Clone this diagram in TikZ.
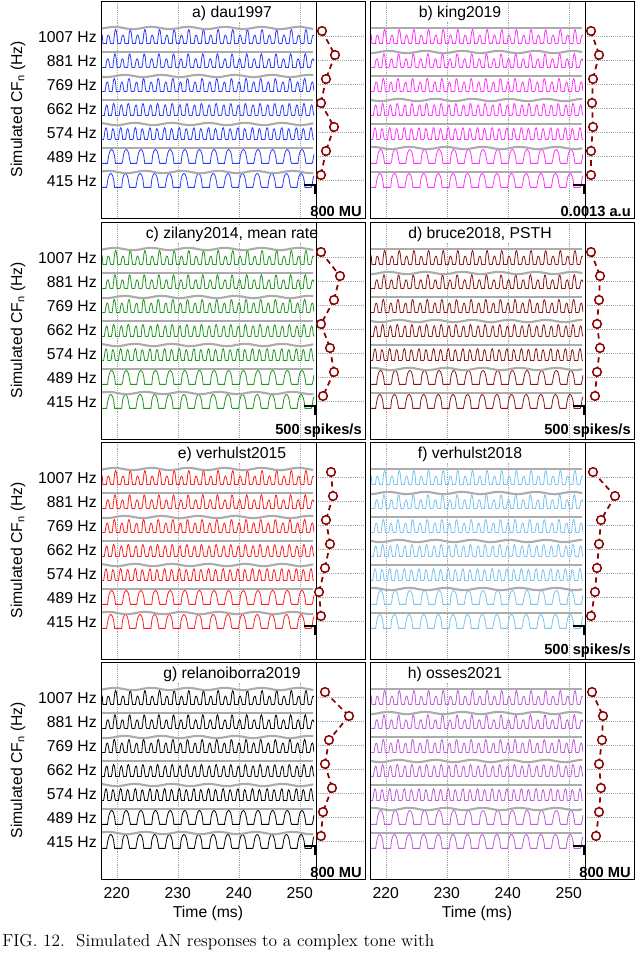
\documentclass[tikz,border=0pt]{standalone}
\usepackage{fontspec}
\setmainfont{Liberation Sans}
\newfontfamily\capfont{Latin Modern Roman}
\begin{document}
\begin{tikzpicture}[x=0.75pt,y=-0.75pt,
  lab/.style={font=\fontsize{11.8}{13}\selectfont,inner sep=0pt},
  ttl/.style={font=\fontsize{11.8}{13}\selectfont,fill=white,inner sep=1pt},
  scl/.style={font=\bfseries\fontsize{11}{12}\selectfont,inner sep=0pt,anchor=south east},
  grid/.style={gray!70,densely dotted,line width=0.4pt},
  gline/.style={gray!65,line width=1.6pt},
  dotc/.style={circle,draw=red!55!black,fill=white,line width=1.1pt,inner sep=0pt,minimum size=6.5pt},
  dline/.style={red!55!black,line width=1.3pt,dash pattern=on 4pt off 3pt}]
\useasboundingbox (0,0) rectangle (640,953);
\definecolor{ca}{RGB}{40,60,255}
\definecolor{cb}{RGB}{255,50,255}
\definecolor{cc}{RGB}{30,150,30}
\definecolor{cd}{RGB}{140,20,20}
\definecolor{ce}{RGB}{255,30,30}
\definecolor{cf}{RGB}{120,195,240}
\definecolor{cg}{RGB}{0,0,0}
\definecolor{ch}{RGB}{190,90,220}
\foreach \L/\T/\col/\ttl/\tx/\sc/\dl [count=\p] in {
  101/1/ca/{a) dau1997}/232/{800 MU}/{3,16,7,2,15,7,2},
  370/1/cb/{b) king2019}/460/{0.0013 a.u}/{3,11,5,4,5,3,3},
  101/222/cc/{c) zilany2014, mean rate}/232/{500 spikes/s}/{2,21,15,2,11,15,4},
  370/222/cd/{d) bruce2018, PSTH}/480/{500 spikes/s}/{3,12,11,9,12,9,7},
  101/442/ce/{e) verhulst2015}/232/{}/{12,14,7,11,6,0,2},
  370/442/cf/{f) verhulst2018}/470/{500 spikes/s}/{5,27,13,11,9,7,3},
  101/662/cg/{g) relanoiborra2019}/232/{800 MU}/{6,30,10,6,13,4,2},
  370/662/ch/{h) osses2021}/455/{800 MU}/{4,15,14,11,13,11,8}}
{
  \pgfmathsetmacro\D{\L+215}
  \pgfmathsetmacro\R{\L+264}
  \pgfmathsetmacro\B{\T+217}
  \foreach \t in {220,230,240,250}
    \draw[grid] ({\L+(\t-217.4)*6.1},\T) -- ({\L+(\t-217.4)*6.1},\B);
  \foreach \k in {0,...,6}
    \draw[grid] (\D,{\T+35.5+24*\k}) -- (\R,{\T+35.5+24*\k});
  \foreach \k in {0,...,6}{
    \pgfmathsetmacro\Y{\T+35.5+24*\k}
    \ifnum\k<5
      \draw[\col,line width=0.6pt] plot[domain=0.2:34.9,samples=300]
        ({\L+\x*6.1},{\Y+7-14*(0.8+0.2*cos(150*\x+40*\k))*pow(max(0.0001,cos(300*\x+30*\k)),0.6)});
    \else
      \draw[\col,line width=0.6pt] plot[domain=0.2:34.9,samples=240]
        ({\L+\x*6.1},{\Y+7-14*pow(max(0.0001,cos(150*\x+20*\k)),0.5)});
    \fi
    \draw[gline] plot[domain=0.1:34.8,samples=40]
      ({\L+\x*6.1},{\Y-8.5+1.2*sin(345*\x+50*\k)*mod(\k+\p,2)});
  }
  \node[ttl] (t\p) at (\tx,{\T+12}) {\ttl};
  \draw[line width=0.5pt] (\D,\T) -- (\D,\B);
  \draw[line width=0.5pt] (\L,\T) rectangle (\R,\B);
  \draw[line width=1.2pt] ({\D-12},{\T+184}) -- ({\D-1},{\T+184}) -- ({\D-1},{\T+193});
  \node[scl] (s\p) at ({\R-3},{\B-1}) {\sc};
  \foreach \o [count=\k from 0] in \dl
    \coordinate (q\k) at ({\D+3+\o},{\T+30+24*\k});
  \foreach \k in {0,...,5}{
    \pgfmathtruncatemacro\kk{\k+1}
    \draw[dline] (q\k) -- (q\kk);
  }
  \foreach \k in {0,...,6}
    \node[dotc] (c\p\k) at (q\k) {};
}
\foreach \T in {1,222,442,662}{
  \foreach \f [count=\k from 0] in {1007,881,769,662,574,489,415}
    \node[lab,anchor=east] (yl\T\k) at (97,{\T+36+24*\k}) {\f\ Hz};
  \node[lab,rotate=90] (yt\T) at (18,{\T+108}) {Simulated CF$_{\mathrm n}$ (Hz)};
}
\foreach \L in {101,370}{
  \foreach \t in {220,230,240,250}
    \node[lab] (xt\L\t) at ({\L+(\t-217.4)*6.1},893) {\t};
  \node[lab] (xl\L) at ({\L+107},913) {Time (ms)};
}
\node[anchor=west,inner sep=0pt,font=\capfont\fontsize{13}{14}\selectfont] (cap) at (2,942)
  {FIG.\ 12.\ \ Simulated AN responses to a complex tone with};
\end{tikzpicture}
\end{document}
